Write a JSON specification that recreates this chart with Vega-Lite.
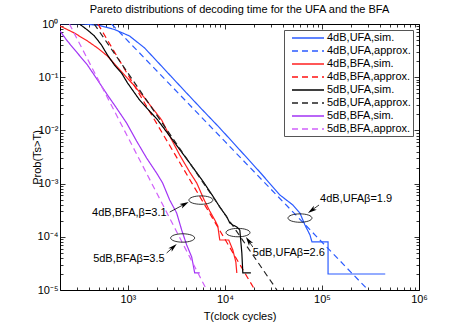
{
  "$schema": "https://vega.github.io/schema/vega-lite/v6.json",
  "width": 359,
  "height": 266,
  "autosize": "none",
  "padding": {"left": 60, "top": 24, "right": 44, "bottom": 37},
  "background": "white",
  "title": {"text": "Pareto distributions of decoding time for the UFA and the BFA", "fontSize": 11, "fontWeight": "normal", "font": "Liberation Sans", "color": "#000", "offset": 3, "anchor": "middle"},
  "config": {"view": {"stroke": "#000", "strokeWidth": 1}, "font": "Liberation Sans"},
  "datasets": {
    "curves": [
      {"s":"4dB,UFA,sim.","T":200,"P":1},{"s":"4dB,UFA,sim.","T":357,"P":1},{"s":"4dB,UFA,sim.","T":511,"P":0.938},{"s":"4dB,UFA,sim.","T":729,"P":0.788},{"s":"4dB,UFA,sim.","T":1042,"P":0.595},{"s":"4dB,UFA,sim.","T":1489,"P":0.354},{"s":"4dB,UFA,sim.","T":2124,"P":0.177},{"s":"4dB,UFA,sim.","T":2826,"P":0.101},{"s":"4dB,UFA,sim.","T":3855,"P":0.055},{"s":"4dB,UFA,sim.","T":5505,"P":0.0275},{"s":"4dB,UFA,sim.","T":8855,"P":0.0111},{"s":"4dB,UFA,sim.","T":14250,"P":0.00428},{"s":"4dB,UFA,sim.","T":22900,"P":0.00165},{"s":"4dB,UFA,sim.","T":36900,"P":0.00061},{"s":"4dB,UFA,sim.","T":50200,"P":0.000396},{"s":"4dB,UFA,sim.","T":59300,"P":0.00028},{"s":"4dB,UFA,sim.","T":66800,"P":0.000167},{"s":"4dB,UFA,sim.","T":75300,"P":0.000108},{"s":"4dB,UFA,sim.","T":78900,"P":0.00008},{"s":"4dB,UFA,sim.","T":115600,"P":0.00008},{"s":"4dB,UFA,sim.","T":115600,"P":0.00002},{"s":"4dB,UFA,sim.","T":449000,"P":0.00002},
      {"s":"4dB,UFA,approx.","T":680,"P":1},{"s":"4dB,UFA,approx.","T":10000,"P":0.0062},{"s":"4dB,UFA,approx.","T":299000,"P":0.00001},
      {"s":"4dB,BFA,sim.","T":200,"P":0.917},{"s":"4dB,BFA,sim.","T":281,"P":0.677},{"s":"4dB,BFA,sim.","T":384,"P":0.479},{"s":"4dB,BFA,sim.","T":487,"P":0.354},{"s":"4dB,BFA,sim.","T":617,"P":0.25},{"s":"4dB,BFA,sim.","T":729,"P":0.177},{"s":"4dB,BFA,sim.","T":925,"P":0.11},{"s":"4dB,BFA,sim.","T":1172,"P":0.0683},{"s":"4dB,BFA,sim.","T":1489,"P":0.0406},{"s":"4dB,BFA,sim.","T":1888,"P":0.0232},{"s":"4dB,BFA,sim.","T":2230,"P":0.0157},{"s":"4dB,BFA,sim.","T":2698,"P":0.00785},{"s":"4dB,BFA,sim.","T":3420,"P":0.00345},{"s":"4dB,BFA,sim.","T":4336,"P":0.00165},{"s":"4dB,BFA,sim.","T":5125,"P":0.00103},{"s":"4dB,BFA,sim.","T":6055,"P":0.000513},{"s":"4dB,BFA,sim.","T":6980,"P":0.000305},{"s":"4dB,BFA,sim.","T":7865,"P":0.000207},{"s":"4dB,BFA,sim.","T":8450,"P":0.00016},{"s":"4dB,BFA,sim.","T":8855,"P":0.000087},{"s":"4dB,BFA,sim.","T":10960,"P":0.000087},{"s":"4dB,BFA,sim.","T":12070,"P":0.0000565},{"s":"4dB,BFA,sim.","T":12970,"P":0.0000336},{"s":"4dB,BFA,sim.","T":13270,"P":0.0000209},
      {"s":"4dB,BFA,approx.","T":492,"P":1},{"s":"4dB,BFA,approx.","T":3000,"P":0.00375},{"s":"4dB,BFA,approx.","T":20370,"P":0.00001},
      {"s":"5dB,UFA,sim.","T":200,"P":1},{"s":"5dB,UFA,sim.","T":317,"P":1},{"s":"5dB,UFA,sim.","T":384,"P":0.771},{"s":"5dB,UFA,sim.","T":453,"P":0.595},{"s":"5dB,UFA,sim.","T":535,"P":0.403},{"s":"5dB,UFA,sim.","T":617,"P":0.261},{"s":"5dB,UFA,sim.","T":729,"P":0.169},{"s":"5dB,UFA,sim.","T":861,"P":0.12},{"s":"5dB,UFA,sim.","T":993,"P":0.0778},{"s":"5dB,UFA,sim.","T":1321,"P":0.0373},{"s":"5dB,UFA,sim.","T":2028,"P":0.0157},{"s":"5dB,UFA,sim.","T":2897,"P":0.0066},{"s":"5dB,UFA,sim.","T":4336,"P":0.00244},{"s":"5dB,UFA,sim.","T":5915,"P":0.00112},{"s":"5dB,UFA,sim.","T":7500,"P":0.000585},{"s":"5dB,UFA,sim.","T":8855,"P":0.000363},{"s":"5dB,UFA,sim.","T":10470,"P":0.000236},{"s":"5dB,UFA,sim.","T":11240,"P":0.000182},{"s":"5dB,UFA,sim.","T":12070,"P":0.000167},{"s":"5dB,UFA,sim.","T":13270,"P":0.000153},{"s":"5dB,UFA,sim.","T":14250,"P":0.000134},{"s":"5dB,UFA,sim.","T":14950,"P":0.0000496},{"s":"5dB,UFA,sim.","T":15300,"P":0.0000209},{"s":"5dB,UFA,sim.","T":18530,"P":0.0000209},
      {"s":"5dB,UFA,approx.","T":450,"P":1},{"s":"5dB,UFA,approx.","T":3000,"P":0.0065},{"s":"5dB,UFA,approx.","T":34360,"P":0.00001},
      {"s":"5dB,BFA,sim.","T":200,"P":0.739},{"s":"5dB,BFA,sim.","T":238,"P":0.479},{"s":"5dB,BFA,sim.","T":302,"P":0.285},{"s":"5dB,BFA,sim.","T":384,"P":0.169},{"s":"5dB,BFA,sim.","T":487,"P":0.0886},{"s":"5dB,BFA,sim.","T":617,"P":0.0463},{"s":"5dB,BFA,sim.","T":764,"P":0.0264},{"s":"5dB,BFA,sim.","T":970,"P":0.0138},{"s":"5dB,BFA,sim.","T":1230,"P":0.00632},{"s":"5dB,BFA,sim.","T":1560,"P":0.00303},{"s":"5dB,BFA,sim.","T":1978,"P":0.00158},{"s":"5dB,BFA,sim.","T":2281,"P":0.00103},{"s":"5dB,BFA,sim.","T":2698,"P":0.000492},{"s":"5dB,BFA,sim.","T":3185,"P":0.00028},{"s":"5dB,BFA,sim.","T":3587,"P":0.000134},{"s":"5dB,BFA,sim.","T":4040,"P":0.0000702},{"s":"5dB,BFA,sim.","T":4550,"P":0.0000417},{"s":"5dB,BFA,sim.","T":4886,"P":0.0000209},{"s":"5dB,BFA,sim.","T":5505,"P":0.0000209},
      {"s":"5dB,BFA,approx.","T":250,"P":1},{"s":"5dB,BFA,approx.","T":1000,"P":0.0075},{"s":"5dB,BFA,approx.","T":6500,"P":0.00001}
    ],
    "ellipses": [{"T":5660,"P":0.00049},{"T":3670,"P":0.000095},{"T":59400,"P":0.000225},{"T":13650,"P":0.00012}],
    "arrows": [{"T":2704,"P":0.000292,"T2":3855,"P2":0.000412},{"T":2512,"P":0.0000496,"T2":2946,"P2":0.0000643},{"T":93300,"P":0.000396,"T2":78300,"P2":0.000315},{"T":19400,"P":0.0000643,"T2":17500,"P2":0.0000845}],
    "labelsR": [{"t":"4dB,BFA,β=3.1","T":2570,"P":0.00028},{"t":"5dB,BFAβ=3.5","T":2450,"P":0.0000383}],
    "labelsL": [{"t":"4dB,UFAβ=1.9","T":95700,"P":0.000513},{"t":"5dB,UFAβ=2.6","T":19400,"P":0.0000495}]
  },
  "layer": [
    {
      "data": {"name": "curves"},
      "mark": {"type": "line", "strokeWidth": 1.2, "clip": true},
      "encoding": {
        "x": {"field": "T", "type": "quantitative", "scale": {"type": "log", "domain": [200, 1000000], "nice": false},
          "axis": {"orient": "bottom", "values": [200,300,400,500,600,700,800,900,1000,2000,3000,4000,5000,6000,7000,8000,9000,10000,20000,30000,40000,50000,60000,70000,80000,90000,100000,200000,300000,400000,500000,600000,700000,800000,900000,1000000],
            "labelExpr": "abs(log(datum.value)/LN10 - round(log(datum.value)/LN10)) < 0.001 ? '10' + ['','','²','³','⁴','⁵','⁶'][round(log(datum.value)/LN10)] : ''",
            "tickSize": {"condition": {"test": "abs(log(datum.value)/LN10 - round(log(datum.value)/LN10)) < 0.001", "value": -5}, "value": -3},
            "tickColor": "#000", "tickWidth": 0.8, "domain": false, "grid": false, "labelOverlap": false, "labelFlush": false, "labelBound": false,
            "labelFontSize": 11, "labelColor": "#000", "labelFont": "Liberation Sans", "labelPadding": 8,
            "title": "T(clock cycles)", "titleFontSize": 11, "titleFontWeight": "normal", "titleColor": "#000", "titleFont": "Liberation Sans", "titlePadding": 4}},
        "y": {"field": "P", "type": "quantitative", "scale": {"type": "log", "domain": [0.00001, 1], "nice": false},
          "axis": {"orient": "left", "values": [0.00001,0.00002,0.00003,0.00004,0.00005,0.00006,0.00007,0.00008,0.00009,0.0001,0.0002,0.0003,0.0004,0.0005,0.0006,0.0007,0.0008,0.0009,0.001,0.002,0.003,0.004,0.005,0.006,0.007,0.008,0.009,0.01,0.02,0.03,0.04,0.05,0.06,0.07,0.08,0.09,0.1,0.2,0.3,0.4,0.5,0.6,0.7,0.8,0.9,1],
            "labelExpr": "abs(log(datum.value)/LN10 - round(log(datum.value)/LN10)) < 0.001 ? '10' + ['⁰','⁻¹','⁻²','⁻³','⁻⁴','⁻⁵'][-round(log(datum.value)/LN10)] : ''",
            "tickSize": {"condition": {"test": "abs(log(datum.value)/LN10 - round(log(datum.value)/LN10)) < 0.001", "value": -5}, "value": -3},
            "tickColor": "#000", "tickWidth": 0.8, "domain": false, "grid": false, "labelOverlap": false, "labelFlush": false, "labelBound": false,
            "labelFontSize": 11, "labelColor": "#000", "labelFont": "Liberation Sans", "labelPadding": 7,
            "title": "Prob(Ts>T)", "titleFontSize": 11, "titleFontWeight": "normal", "titleColor": "#000", "titleFont": "Liberation Sans", "titlePadding": -5}},
        "color": {"field": "s", "type": "nominal",
          "scale": {"domain": ["4dB,UFA,sim.","4dB,UFA,approx.","4dB,BFA,sim.","4dB,BFA,approx.","5dB,UFA,sim.","5dB,UFA,approx.","5dB,BFA,sim.","5dB,BFA,approx."],
                    "range": ["#2b5bff","#2b5bff","#ff2020","#ff1010","#000000","#222222","#a235f5","#d060fa"]},
          "legend": {"orient": "none", "legendX": 224, "legendY": 6, "title": null, "symbolType": "M-3.2,0L3.2,0", "symbolSize": 100, "symbolOffset": 16, "symbolStrokeWidth": 1.3, "labelFontSize": 11, "labelFont": "Liberation Sans", "labelColor": "#000", "padding": 2, "strokeColor": "#555", "fillColor": "#fff", "rowPadding": 2, "labelOffset": 13, "labelLimit": 200}},
        "strokeDash": {"field": "s", "type": "nominal",
          "scale": {"domain": ["4dB,UFA,sim.","4dB,UFA,approx.","4dB,BFA,sim.","4dB,BFA,approx.","5dB,UFA,sim.","5dB,UFA,approx.","5dB,BFA,sim.","5dB,BFA,approx."],
                    "range": [[1,0],[6,4],[1,0],[6,4],[1,0],[6,4],[1,0],[6,4]]},
          "legend": {"orient": "none", "legendX": 224, "legendY": 6, "title": null, "symbolType": "M-3.2,0L3.2,0", "symbolSize": 100, "symbolOffset": 16, "symbolStrokeWidth": 1.3, "labelFontSize": 11, "labelFont": "Liberation Sans", "labelColor": "#000", "padding": 2, "strokeColor": "#555", "fillColor": "#fff", "rowPadding": 2, "labelOffset": 13, "labelLimit": 200}},
        "order": {"value": null}
      }
    },
    {
      "data": {"name": "arrows"},
      "mark": {"type": "rule", "color": "#000", "strokeWidth": 0.8},
      "encoding": {
        "x": {"field": "T", "type": "quantitative", "scale": {"type": "log", "domain": [200, 1000000], "nice": false}, "axis": null},
        "y": {"field": "P", "type": "quantitative", "scale": {"type": "log", "domain": [0.00001, 1], "nice": false}, "axis": null},
        "x2": {"field": "T2"},
        "y2": {"field": "P2"}
      }
    },
    {
      "data": {"values": [{"T":3855,"P":0.000412}]},
      "mark": {"type": "point", "shape": "M0,-1L0.55,1L0,0.5L-0.55,1Z", "size": 81, "filled": true, "color": "#000", "opacity": 1, "angle": 62},
      "encoding": {
        "x": {"field": "T", "type": "quantitative", "scale": {"type": "log", "domain": [200, 1000000], "nice": false}, "axis": null},
        "y": {"field": "P", "type": "quantitative", "scale": {"type": "log", "domain": [0.00001, 1], "nice": false}, "axis": null}
      }
    },
    {
      "data": {"values": [{"T":2946,"P":0.0000643}]},
      "mark": {"type": "point", "shape": "M0,-1L0.55,1L0,0.5L-0.55,1Z", "size": 81, "filled": true, "color": "#000", "opacity": 1, "angle": 48},
      "encoding": {
        "x": {"field": "T", "type": "quantitative", "scale": {"type": "log", "domain": [200, 1000000], "nice": false}, "axis": null},
        "y": {"field": "P", "type": "quantitative", "scale": {"type": "log", "domain": [0.00001, 1], "nice": false}, "axis": null}
      }
    },
    {
      "data": {"values": [{"T":78300,"P":0.000315}]},
      "mark": {"type": "point", "shape": "M0,-1L0.55,1L0,0.5L-0.55,1Z", "size": 81, "filled": true, "color": "#000", "opacity": 1, "angle": 234},
      "encoding": {
        "x": {"field": "T", "type": "quantitative", "scale": {"type": "log", "domain": [200, 1000000], "nice": false}, "axis": null},
        "y": {"field": "P", "type": "quantitative", "scale": {"type": "log", "domain": [0.00001, 1], "nice": false}, "axis": null}
      }
    },
    {
      "data": {"values": [{"T":17500,"P":0.0000845}]},
      "mark": {"type": "point", "shape": "M0,-1L0.55,1L0,0.5L-0.55,1Z", "size": 81, "filled": true, "color": "#000", "opacity": 1, "angle": 325},
      "encoding": {
        "x": {"field": "T", "type": "quantitative", "scale": {"type": "log", "domain": [200, 1000000], "nice": false}, "axis": null},
        "y": {"field": "P", "type": "quantitative", "scale": {"type": "log", "domain": [0.00001, 1], "nice": false}, "axis": null}
      }
    },
    {
      "data": {"name": "labelsR"},
      "mark": {"type": "text", "align": "right", "baseline": "middle", "fontSize": 11, "font": "Liberation Sans", "color": "#000", "dx": -1},
      "encoding": {
        "x": {"field": "T", "type": "quantitative", "scale": {"type": "log", "domain": [200, 1000000], "nice": false}, "axis": null},
        "y": {"field": "P", "type": "quantitative", "scale": {"type": "log", "domain": [0.00001, 1], "nice": false}, "axis": null},
        "text": {"field": "t"}
      }
    },
    {
      "data": {"name": "labelsL"},
      "mark": {"type": "text", "align": "left", "baseline": "middle", "fontSize": 11, "font": "Liberation Sans", "color": "#000", "dx": 0},
      "encoding": {
        "x": {"field": "T", "type": "quantitative", "scale": {"type": "log", "domain": [200, 1000000], "nice": false}, "axis": null},
        "y": {"field": "P", "type": "quantitative", "scale": {"type": "log", "domain": [0.00001, 1], "nice": false}, "axis": null},
        "text": {"field": "t"}
      }
    },
    {
      "data": {"name": "ellipses"},
      "mark": {"type": "point", "shape": "M-1,0A1,0.35,0,1,1,1,0A1,0.35,0,1,1,-1,0Z", "size": 576, "filled": false, "stroke": "#000", "strokeWidth": 0.8, "opacity": 1},
      "encoding": {
        "x": {"field": "T", "type": "quantitative", "scale": {"type": "log", "domain": [200, 1000000], "nice": false},
          "axis": {"orient": "top", "values": [200,300,400,500,600,700,800,900,1000,2000,3000,4000,5000,6000,7000,8000,9000,10000,20000,30000,40000,50000,60000,70000,80000,90000,100000,200000,300000,400000,500000,600000,700000,800000,900000,1000000],
            "labels": false, "title": null, "domain": false, "grid": false, "tickColor": "#000", "tickWidth": 0.8,
            "tickSize": {"condition": {"test": "abs(log(datum.value)/LN10 - round(log(datum.value)/LN10)) < 0.001", "value": -5}, "value": -3}}},
        "y": {"field": "P", "type": "quantitative", "scale": {"type": "log", "domain": [0.00001, 1], "nice": false},
          "axis": {"orient": "right", "values": [0.00001,0.00002,0.00003,0.00004,0.00005,0.00006,0.00007,0.00008,0.00009,0.0001,0.0002,0.0003,0.0004,0.0005,0.0006,0.0007,0.0008,0.0009,0.001,0.002,0.003,0.004,0.005,0.006,0.007,0.008,0.009,0.01,0.02,0.03,0.04,0.05,0.06,0.07,0.08,0.09,0.1,0.2,0.3,0.4,0.5,0.6,0.7,0.8,0.9,1],
            "labels": false, "title": null, "domain": false, "grid": false, "tickColor": "#000", "tickWidth": 0.8,
            "tickSize": {"condition": {"test": "abs(log(datum.value)/LN10 - round(log(datum.value)/LN10)) < 0.001", "value": -5}, "value": -3}}}
      }
    }
  ],
  "resolve": {"axis": {"x": "independent", "y": "independent"}}
}
